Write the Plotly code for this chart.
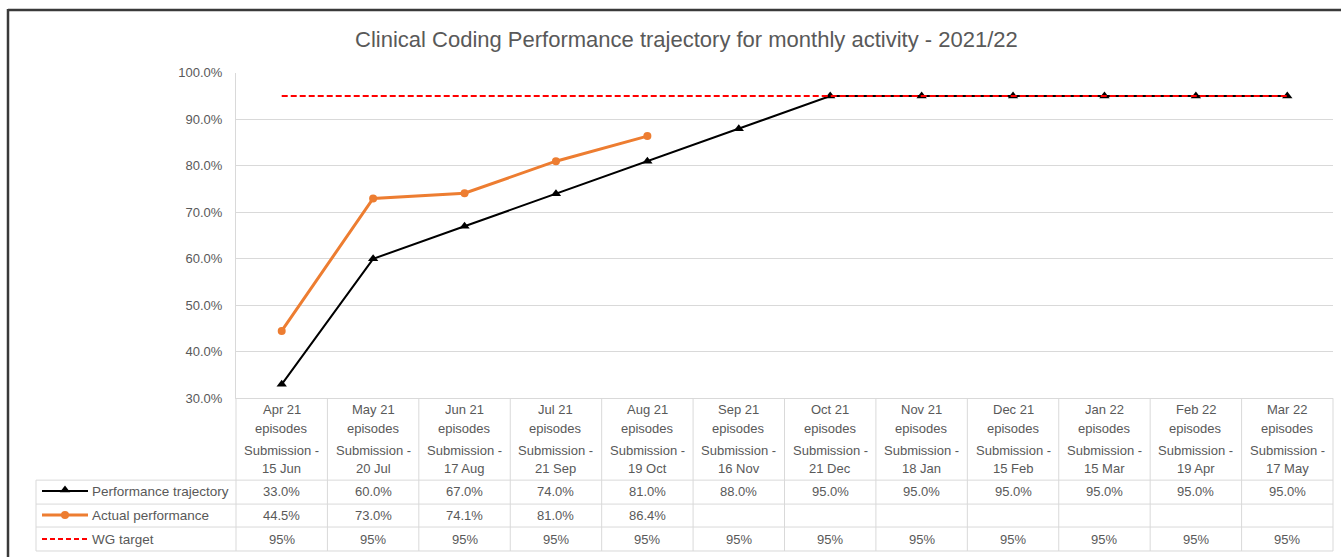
import plotly.graph_objects as go

# ---------------- data ----------------
months = ["Apr 21", "May 21", "Jun 21", "Jul 21", "Aug 21", "Sep 21",
          "Oct 21", "Nov 21", "Dec 21", "Jan 22", "Feb 22", "Mar 22"]
submissions = ["15 Jun", "20 Jul", "17 Aug", "21 Sep", "19 Oct", "16 Nov",
               "21 Dec", "18 Jan", "15 Feb", "15 Mar", "19 Apr", "17 May"]
trajectory = [33.0, 60.0, 67.0, 74.0, 81.0, 88.0, 95.0, 95.0, 95.0, 95.0, 95.0, 95.0]
actual = [44.5, 73.0, 74.1, 81.0, 86.4, None, None, None, None, None, None, None]
wg_target = [95, 95, 95, 95, 95, 95, 95, 95, 95, 95, 95, 95]
y_ticks = [30, 40, 50, 60, 70, 80, 90, 100]
series_names = ["Performance trajectory", "Actual performance", "WG target"]

# ---------------- layout helpers ----------------
W, H = 1341, 557
Y0, HE = 7, 543                       # effective vertical placement of the figure
PL, PR, PT, PB = 236, 1333, 73, 399   # plot area in pixels


def px(x):
    return x / W


def py(y):
    return 1 - (y - Y0) / HE


FONT = "Liberation Sans, Arial, sans-serif"
TXT = "#595959"
GRID = "#d9d9d9"
BLACK = "#000000"
ORANGE = "#ED7D31"
RED = "#FF0000"

xs = list(range(len(months)))

fig = go.Figure()
fig.add_trace(go.Scatter(x=xs, y=trajectory, mode="lines+markers", name=series_names[0],
                         line=dict(color=BLACK, width=2),
                         marker=dict(symbol="triangle-up", size=9, color=BLACK)))
fig.add_trace(go.Scatter(x=xs, y=actual, mode="lines+markers", name=series_names[1],
                         line=dict(color=ORANGE, width=3),
                         marker=dict(symbol="circle", size=8, color=ORANGE)))
fig.add_trace(go.Scatter(x=xs, y=wg_target, mode="lines", name=series_names[2],
                         line=dict(color=RED, width=2, dash="6px,3px")))

shapes = []
annotations = []

# outer chart border (top + left visible)
shapes.append(dict(type="line", xref="paper", yref="paper", x0=px(8), x1=px(1345),
                   y0=py(10), y1=py(10), line=dict(color="#3a3a3a", width=2.5)))
shapes.append(dict(type="line", xref="paper", yref="paper", x0=px(8), x1=px(8),
                   y0=py(9), y1=py(570), line=dict(color="#3a3a3a", width=2.5)))

# data table geometry
row_lines = [481, 505, 528, 552]
row_centers = [492, 516, 540]
header_lines = [410, 429, 451, 469]
tbl_left = 36
tbl_bottom = 552

# column separators (between categories)
for i in range(1, len(months)):
    shapes.append(dict(type="line", xref="x", yref="paper", x0=i - 0.5, x1=i - 0.5,
                       y0=py(PB), y1=py(tbl_bottom), line=dict(color=GRID, width=1)))
# outer vertical edges
for xe in (PL, PR):
    shapes.append(dict(type="line", xref="paper", yref="paper", x0=px(xe), x1=px(xe),
                       y0=py(PB), y1=py(tbl_bottom), line=dict(color=GRID, width=1)))
shapes.append(dict(type="line", xref="paper", yref="paper", x0=px(tbl_left), x1=px(tbl_left),
                   y0=py(row_lines[0]), y1=py(tbl_bottom), line=dict(color=GRID, width=1)))
# horizontal row lines
for yl in row_lines:
    shapes.append(dict(type="line", xref="paper", yref="paper", x0=px(tbl_left), x1=px(PR),
                       y0=py(yl), y1=py(yl), line=dict(color=GRID, width=1)))

# header text
for i, (m, s) in enumerate(zip(months, submissions)):
    for txt, yy in zip([m, "episodes", "Submission -", s], header_lines):
        annotations.append(dict(x=i, y=py(yy), xref="x", yref="paper", text=txt,
                                showarrow=False, xanchor="center", yanchor="middle",
                                font=dict(family=FONT, size=13, color=TXT)))

# cell values
for i in range(len(months)):
    vals = [f"{trajectory[i]:.1f}%",
            "" if actual[i] is None else f"{actual[i]:.1f}%",
            f"{wg_target[i]}%"]
    for v, yy in zip(vals, row_centers):
        if v:
            annotations.append(dict(x=i, y=py(yy), xref="x", yref="paper", text=v,
                                    showarrow=False, xanchor="center", yanchor="middle",
                                    font=dict(family=FONT, size=13, color=TXT)))

# legend keys in table (lines as shapes, markers on a full-figure helper axis)
key_x0, key_x1, key_mid = 42, 88, 65
key_styles = [dict(color=BLACK, width=2), dict(color=ORANGE, width=3),
              dict(color=RED, width=2, dash="5px,3px")]
for name, yy, ls in zip(series_names, row_centers, key_styles):
    shapes.append(dict(type="line", xref="paper", yref="paper", x0=px(key_x0), x1=px(key_x1),
                       y0=py(yy), y1=py(yy), line=ls))
    annotations.append(dict(x=px(90), y=py(yy), xref="paper", yref="paper", text=name,
                            showarrow=False, xanchor="left", yanchor="middle",
                            font=dict(family=FONT, size=13.5, color=TXT)))
fig.add_trace(go.Scatter(x=[key_mid], y=[row_centers[0] - 1], xaxis="x2", yaxis="y2",
                         mode="markers", hoverinfo="skip",
                         marker=dict(symbol="triangle-up", size=9, color=BLACK)))
fig.add_trace(go.Scatter(x=[key_mid], y=[row_centers[1]], xaxis="x2", yaxis="y2",
                         mode="markers", hoverinfo="skip",
                         marker=dict(symbol="circle", size=8, color=ORANGE)))

# title
annotations.append(dict(x=px(686), y=py(40), xref="paper", yref="paper",
                        text="Clinical Coding Performance trajectory for monthly activity - 2021/22",
                        showarrow=False, xanchor="center", yanchor="middle",
                        font=dict(family=FONT, size=22, color=TXT)))

fig.update_layout(
    width=W, height=H,
    autosize=False,
    margin=dict(l=0, r=0, t=0, b=0, pad=0),
    paper_bgcolor="white", plot_bgcolor="rgba(0,0,0,0)",
    showlegend=False,
    xaxis=dict(domain=[px(PL), px(PR)], range=[-0.5, len(months) - 0.5],
               showticklabels=False, showgrid=False, zeroline=False,
               showline=True, linecolor=GRID, linewidth=1, fixedrange=True),
    yaxis=dict(domain=[py(PB), py(PT)], range=[30, 100], tickvals=y_ticks,
               ticktext=[f"{v:.1f}%" for v in y_ticks],
               showgrid=True, gridcolor=GRID, gridwidth=1, zeroline=False,
               showline=True, linecolor=GRID, linewidth=1, ticklabelstandoff=10,
               tickfont=dict(family=FONT, size=13, color=TXT), fixedrange=True),
    xaxis2=dict(domain=[0, 1], range=[0, W], visible=False, anchor="y2",
                fixedrange=True),
    yaxis2=dict(domain=[0, 1], range=[Y0 + HE, Y0], visible=False, anchor="x2",
                fixedrange=True),
    shapes=shapes,
    annotations=annotations,
)

fig.write_html(
    "out.html",
    config={"displayModeBar": False, "responsive": False},
    post_script="document.body.style.margin='0';document.body.style.overflow='hidden';",
)
